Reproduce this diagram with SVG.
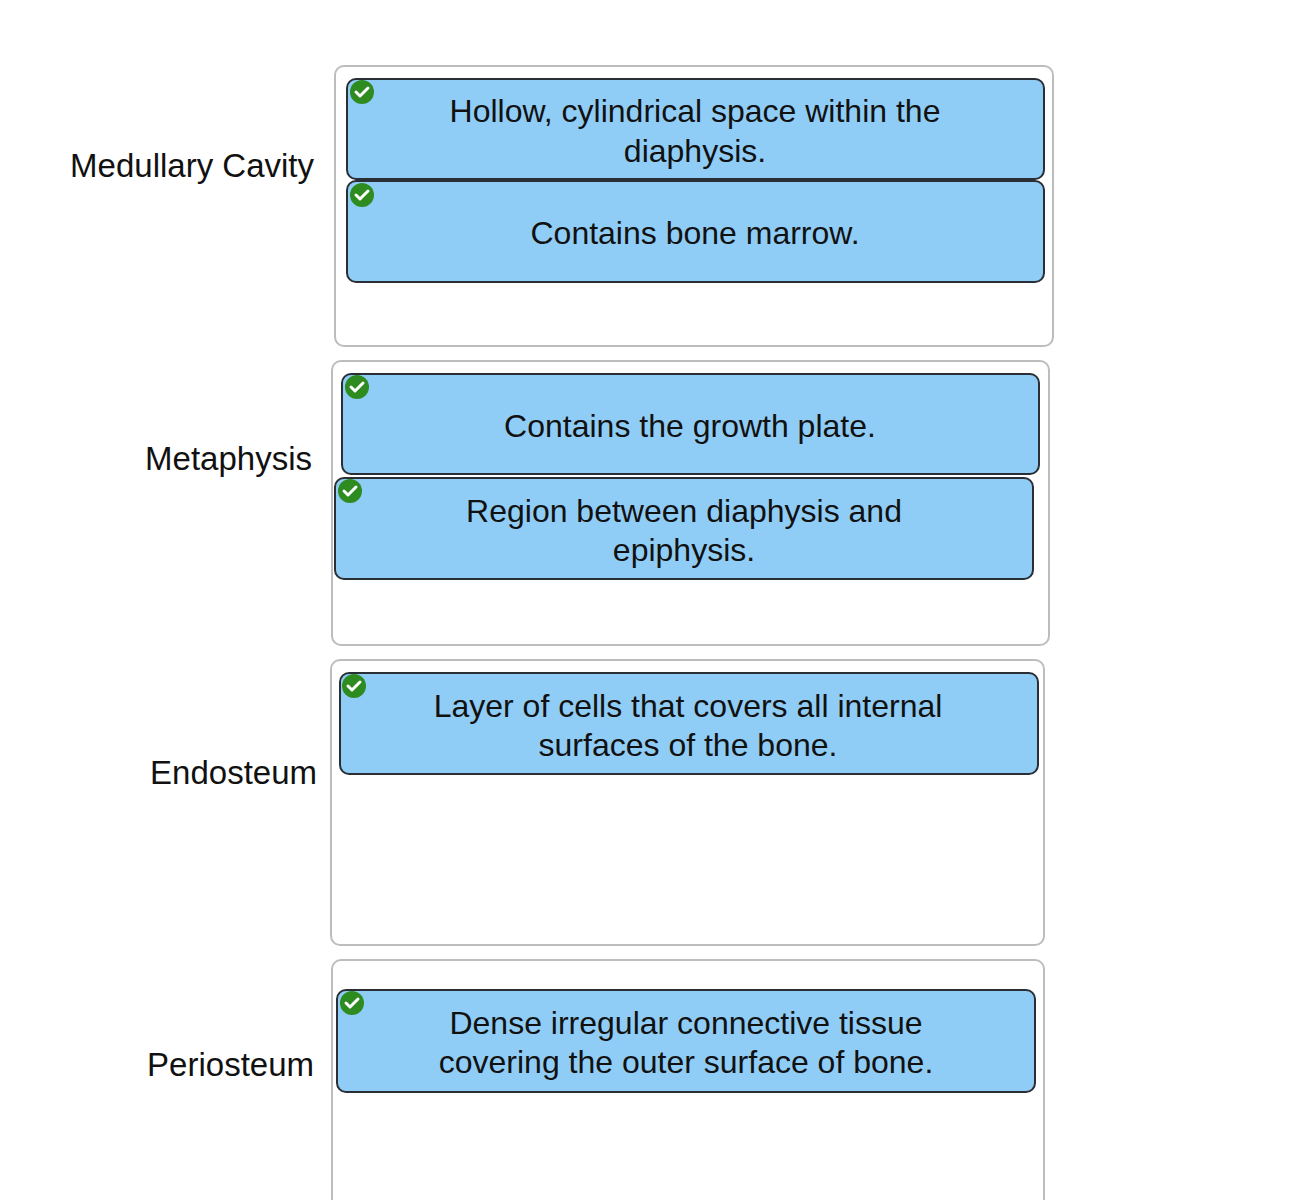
<svg xmlns="http://www.w3.org/2000/svg" width="1310" height="1200" viewBox="0 0 1310 1200">
<style>
.box{fill:#fff;stroke:#bdbdbd;stroke-width:2}
.card{fill:#90cdf6;stroke:#2a2f35;stroke-width:2}
.t{font-family:"Liberation Sans",Arial,sans-serif;font-size:32px;fill:#111;text-anchor:middle}
.lb{font-family:"Liberation Sans",Arial,sans-serif;font-size:33px;fill:#111;text-anchor:end}
.ck{fill:#2e8b1f}
.cm{fill:none;stroke:#fff;stroke-width:3;stroke-linecap:round;stroke-linejoin:round}
</style>
<defs>
<g id="chk"><circle class="ck" r="12"/><path class="cm" d="M-6,0 L-2,4 L6,-4"/></g>
</defs>
<rect width="1310" height="1200" fill="#fff"/>
<g id="labels">
<text class="lb" x="314" y="177">Medullary Cavity</text>
<text class="lb" x="312" y="470">Metaphysis</text>
<text class="lb" x="317" y="784">Endosteum</text>
<text class="lb" x="314" y="1076">Periosteum</text>
</g>
<g id="containers">
<rect class="box" x="335" y="66" width="718" height="280" rx="9"/>
<rect class="box" x="332" y="361" width="717" height="284" rx="9"/>
<rect class="box" x="331" y="660" width="713" height="285" rx="9"/>
<rect class="box" x="332" y="960" width="712" height="260" rx="9"/>
</g>
<g id="cardA"><rect class="card" x="347" y="79" width="697" height="100" rx="9"/><use href="#chk" x="362" y="92"/><text class="t" x="695" y="122">Hollow, cylindrical space within the</text><text class="t" x="695" y="162">diaphysis.</text></g>
<g id="cardB"><rect class="card" x="347" y="181" width="697" height="101" rx="9"/><use href="#chk" x="362" y="195"/><text class="t" x="695" y="244">Contains bone marrow.</text></g>
<g id="cardC"><rect class="card" x="342" y="374" width="697" height="100" rx="9"/><use href="#chk" x="357" y="387"/><text class="t" x="690" y="437">Contains the growth plate.</text></g>
<g id="cardD"><rect class="card" x="335" y="478" width="698" height="101" rx="9"/><use href="#chk" x="350" y="491"/><text class="t" x="684" y="522">Region between diaphysis and</text><text class="t" x="684" y="561">epiphysis.</text></g>
<g id="cardE"><rect class="card" x="340" y="673" width="698" height="101" rx="9"/><use href="#chk" x="354" y="686"/><text class="t" x="688" y="717">Layer of cells that covers all internal</text><text class="t" x="688" y="756">surfaces of the bone.</text></g>
<g id="cardF"><rect class="card" x="337" y="990" width="698" height="102" rx="9"/><use href="#chk" x="352" y="1003"/><text class="t" x="686" y="1034">Dense irregular connective tissue</text><text class="t" x="686" y="1073">covering the outer surface of bone.</text></g>
</svg>
